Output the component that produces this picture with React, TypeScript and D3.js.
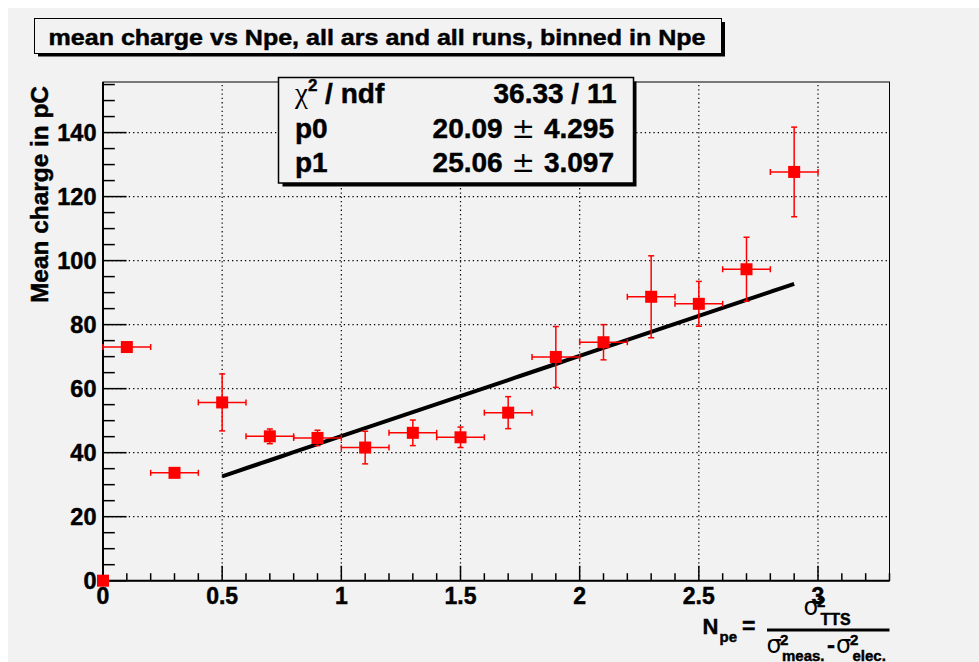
import React from "react";
import * as d3 from "d3";

// ---- data ----
const xValues = [0.1, 0.3, 0.5, 0.7, 0.9, 1.1, 1.3, 1.5, 1.7, 1.9, 2.1, 2.3, 2.5, 2.7, 2.9];
const yValues = [73.0, 33.7, 55.7, 45.1, 44.6, 41.6, 46.2, 44.8, 52.5, 69.9, 74.5, 88.7, 86.5, 97.3, 127.7];
const xErrors = [0.1, 0.1, 0.1, 0.1, 0.1, 0.1, 0.1, 0.1, 0.1, 0.1, 0.1, 0.1, 0.1, 0.1, 0.1];
const yErrors = [1.0, 1.0, 8.9, 2.3, 2.4, 5.1, 4.0, 3.2, 5.0, 9.5, 5.5, 12.8, 7.0, 10.0, 14.0];
const extraPointX = [0];
const extraPointY = [0];

const fitParams = [20.09, 25.06];
const fitRange = [0.5, 2.9];

const xTickValues = [0, 0.5, 1, 1.5, 2, 2.5, 3];
const xTickLabels = ["0", "0.5", "1", "1.5", "2", "2.5", "3"];
const yTickValues = [0, 20, 40, 60, 80, 100, 120, 140];
const yTickLabels = ["0", "20", "40", "60", "80", "100", "120", "140"];

const titleText = "mean charge vs Npe, all ars and all runs, binned in Npe";
const yAxisTitle = "Mean charge in pC";
const statLabels = ["/ ndf", "p0", "p1"];
const statValues = ["36.33 / 11", "20.09", "25.06"];
const statErrors = ["", "4.295", "3.097"];

// ---- layout ----
const FONT = "'Liberation Sans', Arial, Helvetica, sans-serif";
const BG = "#f2f2f2";
const X0 = 103, X1 = 889.5, Y0 = 580.7, Y1 = 82;
const BOLD = { stroke: "#000", strokeWidth: 0.45 };

export default function App() {
  const x = d3.scaleLinear().domain([0, 3.3]).range([X0, X1]);
  const y = d3.scaleLinear().domain([0, 155.8]).range([Y0, Y1]);

  const xMinor = d3.range(0, 3.3001, 0.1).map((v) => +v.toFixed(2));
  const yMinor = d3.range(0, 155.8, 5);
  const xMajorLen = 15, xMinorLen = 7.5, yMajorLen = 23.6, yMinorLen = 11.8;

  const line = d3.line<number>().x((v) => x(v)).y((v) => y(fitParams[0] + fitParams[1] * v));
  const fitPts = d3.range(fitRange[0], fitRange[1] + 1e-9, 0.05);

  const ms = 12;
  const cap = 3;

  return (
    <svg
      width={971}
      height={654}
      style={{ position: "fixed", left: 8, top: 8, display: "block" }}
    >
      <g transform="translate(-8,-8)">
        <rect x={8} y={8} width={971} height={654} fill={BG} />

        {/* frame */}
        <rect x={X0} y={Y1} width={X1 - X0} height={Y0 - Y1} fill={BG} stroke="#000" strokeWidth={1} />

        {/* grid */}
        {xTickValues.filter((v) => v > 0).map((v) => (
          <line key={"gx" + v} x1={x(v)} x2={x(v)} y1={Y0} y2={Y1} stroke="#000" strokeWidth={1.2} strokeDasharray="1.3,3" />
        ))}
        {yTickValues.filter((v) => v > 0).map((v) => (
          <line key={"gy" + v} x1={X0} x2={X1} y1={y(v)} y2={y(v)} stroke="#000" strokeWidth={1.2} strokeDasharray="1.3,3" />
        ))}

        {/* ticks */}
        {xMinor.map((v) => {
          const major = Math.abs(v * 2 - Math.round(v * 2)) < 1e-6;
          return (
            <line key={"tx" + v} x1={x(v)} x2={x(v)} y1={Y0} y2={Y0 - (major ? xMajorLen : xMinorLen)} stroke="#000" strokeWidth={1.5} />
          );
        })}
        {yMinor.map((v) => {
          const major = v % 20 === 0;
          return (
            <line key={"ty" + v} x1={X0} x2={X0 + (major ? yMajorLen : yMinorLen)} y1={y(v)} y2={y(v)} stroke="#000" strokeWidth={1.5} />
          );
        })}

        {/* axes */}
        <line x1={X0} x2={X1} y1={Y0} y2={Y0} stroke="#000" strokeWidth={2} />
        <line x1={X0} x2={X0} y1={Y0} y2={Y1} stroke="#000" strokeWidth={2} />

        {/* tick labels */}
        {xTickValues.map((v, i) => (
          <text key={"lx" + v} x={x(v)} y={604} textAnchor="middle" fontFamily={FONT} fontWeight="bold" fontSize={23} fill="#000" {...BOLD}>
            {xTickLabels[i]}
          </text>
        ))}
        {yTickValues.map((v, i) => (
          <text key={"ly" + v} x={96.5} y={y(v) + 8.5} textAnchor="end" fontFamily={FONT} fontWeight="bold" fontSize={23.5} fill="#000" {...BOLD}>
            {yTickLabels[i]}
          </text>
        ))}

        {/* y axis title */}
        <text transform="translate(48,86) rotate(-90)" textAnchor="end" fontFamily={FONT} fontWeight="bold" fontSize={24} fill="#000" textLength={217} lengthAdjust="spacingAndGlyphs" {...BOLD}>
          {yAxisTitle}
        </text>

        {/* x axis title: N_pe = sigma^2_TTS / (sigma^2_meas. - sigma^2_elec.) */}
        <g fontFamily={FONT} fontWeight="bold" fill="#000">
          <text x={702.5} y={634} fontSize={22} {...BOLD}>N</text>
          <text x={719.5} y={641.5} fontSize={15} {...BOLD}>pe</text>
          <text x={742} y={634} fontSize={23} {...BOLD}>=</text>
          <line x1={767} x2={889.5} y1={630} y2={630} stroke="#000" strokeWidth={3} />
          <text x={803.5} y={615} fontSize={24} fontWeight="normal" fontFamily="'DejaVu Sans', sans-serif">σ</text>
          <text x={817} y={607} fontSize={15} {...BOLD}>2</text>
          <text x={820.5} y={625} fontSize={16} {...BOLD}>TTS</text>
          <text x={766.5} y={653} fontSize={24} fontWeight="normal" fontFamily="'DejaVu Sans', sans-serif">σ</text>
          <text x={780} y={645} fontSize={15} {...BOLD}>2</text>
          <text x={782} y={661} fontSize={15} {...BOLD}>meas.</text>
          <text x={827} y={653} fontSize={24} {...BOLD}>-</text>
          <text x={836} y={653} fontSize={24} fontWeight="normal" fontFamily="'DejaVu Sans', sans-serif">σ</text>
          <text x={850} y={645} fontSize={15} {...BOLD}>2</text>
          <text x={852.5} y={661} fontSize={15} {...BOLD}>elec.</text>
        </g>

        {/* fit line */}
        <path d={line(fitPts) || ""} fill="none" stroke="#000" strokeWidth={4} />

        {/* error bars */}
        {xValues.map((xv, i) => {
          const yv = yValues[i];
          const xl = x(xv - xErrors[i]), xr = x(xv + xErrors[i]);
          const yt = y(yv + yErrors[i]), yb = y(yv - yErrors[i]);
          const cx = x(xv), cy = y(yv);
          return (
            <g key={"e" + i} stroke="#ff0000" strokeWidth={1.5}>
              <line x1={xl} x2={xr} y1={cy} y2={cy} />
              <line x1={xl} x2={xl} y1={cy - cap} y2={cy + cap} />
              <line x1={xr} x2={xr} y1={cy - cap} y2={cy + cap} />
              {yErrors[i] * 3.2 > ms / 2 && (
                <>
                  <line x1={cx} x2={cx} y1={yt} y2={yb} />
                  <line x1={cx - cap} x2={cx + cap} y1={yt} y2={yt} />
                  <line x1={cx - cap} x2={cx + cap} y1={yb} y2={yb} />
                </>
              )}
            </g>
          );
        })}

        {/* markers */}
        {xValues.map((xv, i) => (
          <rect key={"m" + i} x={x(xv) - ms / 2} y={y(yValues[i]) - ms / 2} width={ms} height={ms} fill="#ff0000" />
        ))}
        {extraPointX.map((xv, i) => (
          <rect key={"mo" + i} x={x(xv) - ms / 2} y={y(extraPointY[i]) - ms / 2} width={ms} height={ms} fill="#ff0000" />
        ))}

        {/* title box */}
        <rect x={38} y={22} width={687} height={34.5} fill="#000" />
        <rect x={34.5} y={18.5} width={687} height={35} fill={BG} stroke="#000" strokeWidth={1} />
        <text x={48.5} y={45} fontFamily={FONT} fontWeight="bold" fontSize={21.5} fill="#000" textLength={657} lengthAdjust="spacingAndGlyphs" {...BOLD}>
          {titleText}
        </text>

        {/* stats box */}
        <rect x={282.5} y={81.5} width={354} height={105} fill="#000" />
        <rect x={278.5} y={77.5} width={355} height={105.5} fill={BG} stroke="#000" strokeWidth={1.5} />
        <g fontFamily={FONT} fontWeight="bold" fontSize={28} fill="#000">
          <text x={295} y={103}>
            <tspan fontFamily="'Liberation Serif', serif" fontWeight="normal" fontSize={29}>χ</tspan>
            <tspan fontSize={17} dy={-12} {...BOLD}>2</tspan>
            <tspan dy={12} {...BOLD}>{" " + statLabels[0]}</tspan>
          </text>
          <text x={295} y={138} {...BOLD}>{statLabels[1]}</text>
          <text x={295} y={172} {...BOLD}>{statLabels[2]}</text>
          <text x={616.5} y={103} textAnchor="end" {...BOLD}>{statValues[0]}</text>
          {[1, 2].map((k) => (
            <text key={"sv" + k} x={614} y={k === 1 ? 138 : 172} textAnchor="end">
              <tspan {...BOLD}>{statValues[k]}</tspan>
              <tspan fontWeight="normal" fontFamily="'DejaVu Sans', sans-serif">{" ± "}</tspan>
              <tspan {...BOLD}>{statErrors[k]}</tspan>
            </text>
          ))}
        </g>
      </g>
    </svg>
  );
}
